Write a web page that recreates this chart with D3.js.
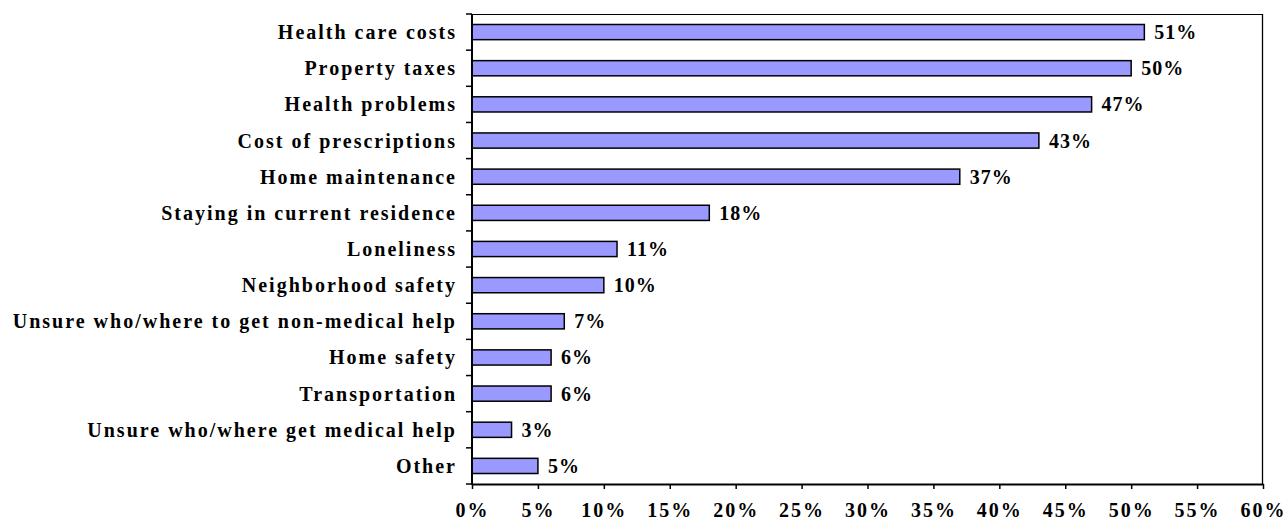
<!DOCTYPE html>
<html>
<head>
<meta charset="utf-8">
<script src="https://cdn.jsdelivr.net/npm/d3@7"></script>
<style>
  html, body { margin: 0; padding: 0; background: #fff; }
  svg text { font-family: "Liberation Serif", "Times New Roman", serif; font-weight: bold; fill: #000; }
</style>
</head>
<body>
<svg id="chart" width="1287" height="520"></svg>
<script>
// Concerns about aging at home: share of respondents naming each issue
const categories = [
  "Health care costs",
  "Property taxes",
  "Health problems",
  "Cost of prescriptions",
  "Home maintenance",
  "Staying in current residence",
  "Loneliness",
  "Neighborhood safety",
  "Unsure who/where to get non-medical help",
  "Home safety",
  "Transportation",
  "Unsure who/where get medical help",
  "Other"
];
const values = [51, 50, 47, 43, 37, 18, 11, 10, 7, 6, 6, 3, 5];
const xTicks = [0, 5, 10, 15, 20, 25, 30, 35, 40, 45, 50, 55, 60];

const svg = d3.select("#chart");
const margin = { left: 472, right: 24, top: 14, bottom: 36 };
const W = 1287, H = 520;
const x0 = margin.left, x1 = W - margin.right;
const y0 = margin.top, y1 = H - margin.bottom;

const x = d3.scaleLinear().domain([0, 60]).range([x0, x1]);
const y = d3.scaleBand().domain(categories).range([y0, y1]).paddingInner(0.58).paddingOuter(0.29);
const yEdges = d3.scaleBand().domain(categories).range([y0, y1]).padding(0);

// plot frame: thin top and right edges
svg.append("line").attr("x1", x0).attr("x2", x1).attr("y1", y0 + 0.5).attr("y2", y0 + 0.5)
  .attr("stroke", "#000").attr("stroke-width", 1);
svg.append("line").attr("x1", x1 - 0.5).attr("x2", x1 - 0.5).attr("y1", y0).attr("y2", y1)
  .attr("stroke", "#000").attr("stroke-width", 1.3);

// bars
svg.append("g").selectAll("rect").data(values).join("rect")
  .attr("x", x(0))
  .attr("y", (d, i) => y(categories[i]))
  .attr("width", d => x(d) - x(0))
  .attr("height", y.bandwidth())
  .attr("fill", "#9999FF")
  .attr("stroke", "#000")
  .attr("stroke-width", 1.5);

// value labels
svg.append("g").selectAll("text").data(values).join("text")
  .attr("x", d => x(d) + 10)
  .attr("y", (d, i) => y(categories[i]) + y.bandwidth() / 2)
  .attr("dy", "0.35em")
  .attr("font-size", 20)
  .attr("letter-spacing", "1px")
  .text(d => d + "%");

// x axis
const xAxis = d3.axisBottom(x).tickValues(xTicks).tickFormat(d => d + "%").tickSize(5).tickSizeOuter(0);
const gx = svg.append("g").attr("transform", `translate(0,${y1})`).call(xAxis);
gx.select(".domain").attr("stroke-width", 2);
gx.selectAll(".tick line").attr("stroke-width", 1.5);
gx.selectAll(".tick text").attr("font-size", 20).attr("letter-spacing", "2px")
  .attr("y", 19).attr("dy", "0.71em")
  .style("font-family", "'Liberation Serif', serif").style("font-weight", "bold");

// y axis: ticks at band boundaries
const gy = svg.append("g").attr("transform", `translate(${x0},0)`);
gy.append("line").attr("x1", 0).attr("x2", 0).attr("y1", y0).attr("y2", y1 + 1)
  .attr("stroke", "#000").attr("stroke-width", 2);
const edges = categories.map(c => yEdges(c)).concat([y1]);
gy.selectAll("line.edge").data(edges).join("line").attr("class", "edge")
  .attr("x1", -6).attr("x2", 0).attr("y1", d => d).attr("y2", d => d)
  .attr("stroke", "#000").attr("stroke-width", 1.5);
gy.selectAll("text").data(categories).join("text")
  .attr("x", -15)
  .attr("y", c => y(c) + y.bandwidth() / 2)
  .attr("dy", "0.35em")
  .attr("text-anchor", "end")
  .attr("font-size", 20)
  .attr("letter-spacing", "2px")
  .text(c => c);
</script>
</body>
</html>
